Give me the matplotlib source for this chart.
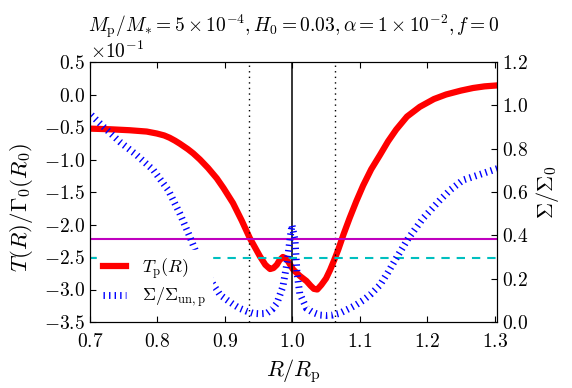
import matplotlib
matplotlib.use("Agg")
import matplotlib.pyplot as plt

plt.rcParams.update({
    "font.family": "serif",
    "font.serif": ["cmr10"],
    "mathtext.fontset": "cm",
    "axes.formatter.use_mathtext": True,
    "xtick.direction": "in",
    "ytick.direction": "in",
    "xtick.top": True,
    "xtick.major.size": 4,
    "ytick.major.size": 4,
    "xtick.major.pad": 8,
    "lines.scale_dashes": False,
    "lines.dotted_pattern": [1, 3],
    "lines.dashed_pattern": [6, 5],
    "font.size": 14,
})

# torque profile T_p(R) (left axis, Gamma_0 units)
r_torque = [0.700, 0.730, 0.759, 0.784, 0.799, 0.810, 0.818, 0.826, 0.833, 0.845,
            0.853, 0.863, 0.875, 0.888, 0.898, 0.912, 0.925, 0.937, 0.952, 0.960,
            0.967, 0.972, 0.977, 0.981, 0.986, 0.990, 0.994, 1.001, 1.011, 1.021,
            1.027, 1.032, 1.037, 1.043, 1.050, 1.056, 1.062, 1.068, 1.076, 1.085,
            1.095, 1.105, 1.117, 1.130, 1.142, 1.154, 1.170, 1.189, 1.210, 1.228,
            1.250, 1.268, 1.285, 1.304]
torque = [-0.0525, -0.0535, -0.0550, -0.0570, -0.0600, -0.0630, -0.0665, -0.0710, -0.0755, -0.0840,
          -0.0905, -0.1000, -0.1130, -0.1290, -0.1440, -0.1670, -0.1940, -0.2210, -0.2490, -0.2620,
          -0.2685, -0.2670, -0.2620, -0.2550, -0.2500, -0.2520, -0.2570, -0.2690, -0.2790, -0.2870,
          -0.2940, -0.2990, -0.3000, -0.2930, -0.2830, -0.2700, -0.2550, -0.2390, -0.2150, -0.1900,
          -0.1640, -0.1400, -0.1150, -0.0930, -0.0720, -0.0540, -0.0340, -0.0190, -0.0070, 0.0000,
          0.0060, 0.0100, 0.0125, 0.0140]

# surface density Sigma / Sigma_un,p (right axis)
r_sigma = [0.702, 0.720, 0.744, 0.769, 0.794, 0.816, 0.833, 0.848, 0.858, 0.870,
           0.883, 0.893, 0.903, 0.913, 0.922, 0.932, 0.942, 0.952, 0.962, 0.970,
           0.977, 0.986, 0.992, 0.997, 0.9995, 1.004, 1.007, 1.011, 1.021, 1.030,
           1.041, 1.050, 1.060, 1.070, 1.085, 1.095, 1.105, 1.117, 1.130, 1.142,
           1.154, 1.163, 1.172, 1.194, 1.219, 1.234, 1.253, 1.283, 1.305]
sigma = [0.955, 0.901, 0.832, 0.771, 0.701, 0.609, 0.502, 0.394, 0.317, 0.240,
         0.171, 0.125, 0.102, 0.080, 0.063, 0.050, 0.040, 0.038, 0.040, 0.058,
         0.086, 0.163, 0.270, 0.394, 0.448, 0.378, 0.225, 0.132, 0.063, 0.045,
         0.032, 0.030, 0.032, 0.040, 0.063, 0.080, 0.100, 0.130, 0.171, 0.230,
         0.294, 0.340, 0.386, 0.479, 0.563, 0.609, 0.655, 0.686, 0.709]

r_planet = 1.0
gap_edges = [0.9365, 1.0635]
hline_magenta = -0.222
hline_cyan = -0.252

fig = plt.figure(figsize=(5.72, 3.88), dpi=100)
ax = fig.add_axes([90 / 572, 1 - 322 / 388, 407 / 572, 260 / 388])
ax2 = ax.twinx()

l1, = ax.plot(r_torque, torque, color="r", lw=4.5, solid_joinstyle="round",
              label=r"$T_{\rm p}(R)$")
ax.axvline(r_planet, color="k", lw=1.1)
for xe in gap_edges:
    ax.axvline(xe, color="k", lw=1.0, ls=":")
ax.axhline(hline_magenta, color="m", lw=1.5)
ax.axhline(hline_cyan, color="c", lw=1.5, ls="--")

l2, = ax2.plot(r_sigma, sigma, color="b", lw=5, ls=":", dash_capstyle="butt",
               label=r"$\Sigma/\Sigma_{\rm un,p}$")

ax.set_xlim(0.7, 1.3035)
ax.set_ylim(-0.35, 0.05)
ax.set_yticks([-0.35, -0.30, -0.25, -0.20, -0.15, -0.10, -0.05, 0.0, 0.05])
ax.ticklabel_format(axis="y", style="sci", scilimits=(0, 0))
ax.set_xticks([0.7, 0.8, 0.9, 1.0, 1.1, 1.2, 1.3])
ax2.set_ylim(0, 1.2)
ax2.set_yticks([0.0, 0.2, 0.4, 0.6, 0.8, 1.0, 1.2])

ax.set_xlabel(r"$R/R_{\rm p}$", fontsize=16, labelpad=4)
ax.set_ylabel(r"$T(R)/\Gamma_0(R_0)$", fontsize=16.5)
ax.yaxis.set_label_coords(-0.135, 0.44)
ax2.set_ylabel(r"$\Sigma/\Sigma_0$", fontsize=16)
ax.set_title(r"$M_{\rm p}/M_{*}=5\times10^{-4}, H_0=0.03, \alpha=1\times10^{-2}, f=0$",
             fontsize=14, pad=22)

leg = ax2.legend([l1, l2], [l1.get_label(), l2.get_label()], loc="lower left",
                 fontsize=13, handlelength=1.3, handletextpad=0.9, labelspacing=0.3,
                 fancybox=False, framealpha=1, borderaxespad=0.4, borderpad=0.3)
leg.get_frame().set_edgecolor("white")

fig.savefig("out.png", dpi=100)
